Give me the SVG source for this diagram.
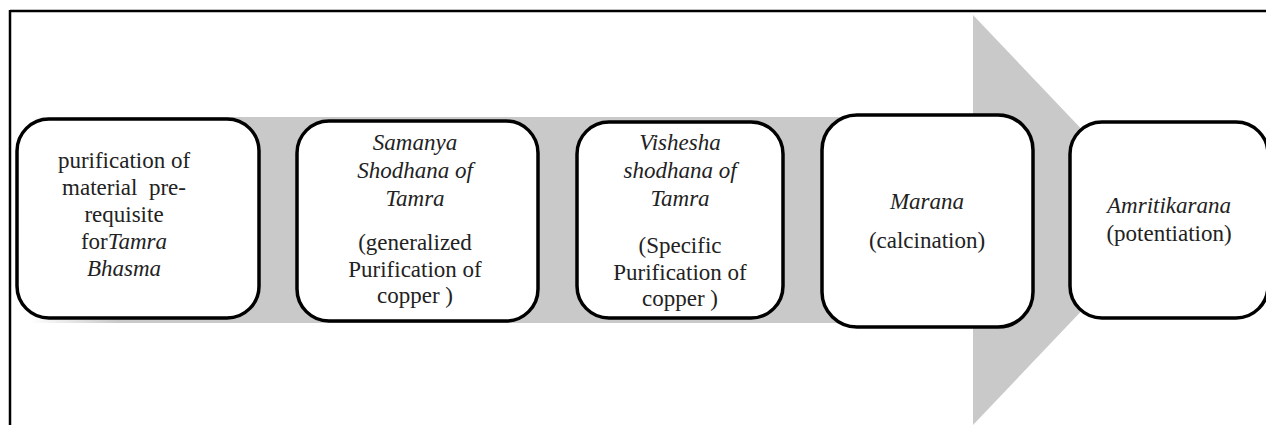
<svg xmlns="http://www.w3.org/2000/svg" width="1266" height="425" viewBox="0 0 1266 425">
<style>
.frame{stroke:#000;stroke-width:2.5;fill:none}
.box{fill:#fff;stroke:#000;stroke-width:3.5}
.t{font-family:"Liberation Serif","Times New Roman",serif;font-size:23px;fill:#222;text-anchor:middle}
.i{font-style:italic}
</style>
<defs>
<linearGradient id="fade" x1="30" y1="0" x2="118" y2="0" gradientUnits="userSpaceOnUse">
<stop offset="0" stop-color="#c9c9c9" stop-opacity="0"/>
<stop offset="1" stop-color="#c9c9c9" stop-opacity="1"/>
</linearGradient>
</defs>
<rect width="1266" height="425" fill="#fff"/>
<g id="connectors">
<rect x="30" y="117" width="90" height="206" fill="url(#fade)"/>
<rect x="119" y="117" width="856" height="206" fill="#c9c9c9"/>
<polygon points="973,15 1168,220 973,425" fill="#c9c9c9"/>
</g>
<g id="frame">
<line class="frame" x1="10" y1="11" x2="1266" y2="11"/>
<line class="frame" x1="10" y1="10" x2="10" y2="425"/>
</g>
<g id="node1">
<rect class="box" x="17" y="119" width="242" height="199" rx="32"/>
<text class="t" x="124" y="168">purification of</text>
<text class="t" x="124" y="195" xml:space="preserve">material  pre-</text>
<text class="t" x="124" y="222">requisite</text>
<text class="t" x="124" y="249">for<tspan class="i">Tamra</tspan></text>
<text class="t i" x="124" y="276">Bhasma</text>
</g>
<g id="node2">
<rect class="box" x="297" y="121" width="241" height="200" rx="32"/>
<text class="t i" x="415" y="150">Samanya</text>
<text class="t i" x="415" y="178">Shodhana of</text>
<text class="t i" x="415" y="206">Tamra</text>
<text class="t" x="415" y="250">(generalized</text>
<text class="t" x="415" y="277">Purification of</text>
<text class="t" x="415" y="303">copper )</text>
</g>
<g id="node3">
<rect class="box" x="577" y="122" width="206" height="196" rx="32"/>
<text class="t i" x="680" y="150">Vishesha</text>
<text class="t i" x="680" y="178">shodhana of</text>
<text class="t i" x="680" y="206">Tamra</text>
<text class="t" x="680" y="253">(Specific</text>
<text class="t" x="680" y="280">Purification of</text>
<text class="t" x="680" y="306">copper )</text>
</g>
<g id="node4">
<rect class="box" x="822" y="115" width="211" height="212" rx="35"/>
<text class="t i" x="927" y="209">Marana</text>
<text class="t" x="927" y="248">(calcination)</text>
</g>
<g id="node5">
<rect class="box" x="1070" y="122" width="198" height="196" rx="32"/>
<text class="t i" x="1169" y="213">Amritikarana</text>
<text class="t" x="1169" y="241">(potentiation)</text>
</g>
</svg>
